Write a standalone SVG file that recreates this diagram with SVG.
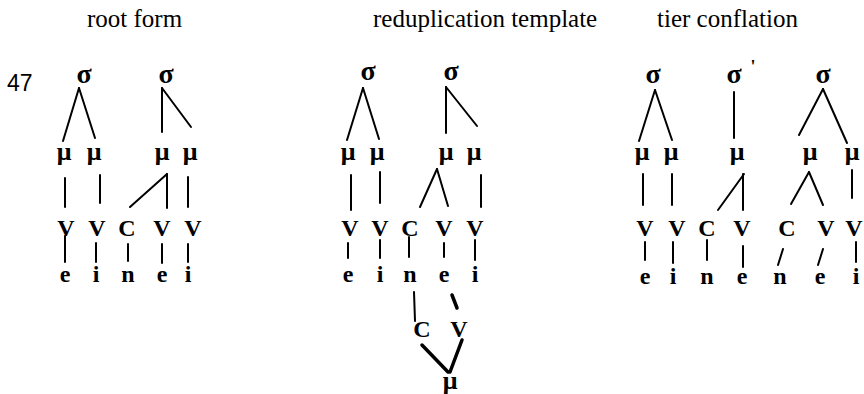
<svg xmlns="http://www.w3.org/2000/svg" width="864" height="394" viewBox="0 0 864 394">
<style>
text{font-family:"Liberation Serif","Times New Roman",serif;fill:#000;text-anchor:middle}
.title{font-size:25px;text-anchor:start}
.num{font-family:"Liberation Sans",Arial,sans-serif;font-size:23px;text-anchor:start}
.sig{font-size:28px;font-weight:bold}
.mu{font-size:26px;font-weight:bold}
.cv{font-size:24px;font-weight:bold}
.seg{font-size:24px;font-weight:bold}
.ln line{stroke:#000;stroke-width:2;stroke-linecap:round}
.ln line.thick{stroke-width:3.5}
</style>
<rect width="864" height="394" fill="#fff"/>
<g id="titles">
<text class="title" x="87" y="27">root form</text>
<text class="title" x="373" y="27">reduplication template</text>
<text class="title" x="657" y="27">tier conflation</text>
<text class="num" x="7" y="91">47</text>
</g>
<g id="tree-root">
<text class="sig" x="84" y="83">σ</text>
<text class="sig" x="166" y="83">σ</text>
<text class="mu" x="64" y="160">μ</text>
<text class="mu" x="94" y="160">μ</text>
<text class="mu" x="162" y="160">μ</text>
<text class="mu" x="190" y="160">μ</text>
<text class="cv" x="66" y="236">V</text>
<text class="cv" x="97" y="236">V</text>
<text class="cv" x="127" y="236">C</text>
<text class="cv" x="162" y="236">V</text>
<text class="cv" x="193" y="236">V</text>
<text class="seg" x="65" y="282">e</text>
<text class="seg" x="96" y="282">i</text>
<text class="seg" x="128" y="282">n</text>
<text class="seg" x="162" y="282">e</text>
<text class="seg" x="188" y="282">i</text>
</g>
<g id="tree-template">
<text class="sig" x="368" y="80">σ</text>
<text class="sig" x="451" y="80">σ</text>
<text class="mu" x="348" y="160">μ</text>
<text class="mu" x="377" y="160">μ</text>
<text class="mu" x="446" y="160">μ</text>
<text class="mu" x="474" y="160">μ</text>
<text class="cv" x="350" y="236">V</text>
<text class="cv" x="380" y="236">V</text>
<text class="cv" x="410" y="236">C</text>
<text class="cv" x="444" y="236">V</text>
<text class="cv" x="475" y="236">V</text>
<text class="seg" x="348" y="282">e</text>
<text class="seg" x="380" y="282">i</text>
<text class="seg" x="410" y="282">n</text>
<text class="seg" x="444" y="282">e</text>
<text class="seg" x="475" y="282">i</text>
<text class="cv" x="422" y="337">C</text>
<text class="cv" x="459" y="337">V</text>
<text class="mu" x="450" y="389">μ</text>
</g>
<g id="tree-conflation">
<text class="sig" x="653" y="83">σ</text>
<text class="sig" x="734" y="83">σ</text>
<text class="sig" x="753" y="73" style="font-size:18px">'</text>
<text class="sig" x="823" y="83">σ</text>
<text class="mu" x="642" y="160">μ</text>
<text class="mu" x="671" y="160">μ</text>
<text class="mu" x="737" y="160">μ</text>
<text class="mu" x="810" y="160">μ</text>
<text class="mu" x="852" y="160">μ</text>
<text class="cv" x="645" y="236">V</text>
<text class="cv" x="677" y="236">V</text>
<text class="cv" x="707" y="236">C</text>
<text class="cv" x="742" y="236">V</text>
<text class="cv" x="787" y="236">C</text>
<text class="cv" x="826" y="236">V</text>
<text class="cv" x="854" y="236">V</text>
<text class="seg" x="645" y="284">e</text>
<text class="seg" x="673" y="284">i</text>
<text class="seg" x="707" y="284">n</text>
<text class="seg" x="742" y="284">e</text>
<text class="seg" x="780" y="284">n</text>
<text class="seg" x="820" y="284">e</text>
<text class="seg" x="856" y="284">i</text>
</g>
<g id="connectors" class="ln">
<line x1="79" y1="88" x2="63" y2="141"/>
<line x1="79" y1="88" x2="95" y2="138"/>
<line x1="162" y1="88" x2="162" y2="132"/>
<line x1="162" y1="88" x2="191" y2="127"/>
<line x1="65" y1="178" x2="65" y2="207"/>
<line x1="100" y1="175" x2="100" y2="203"/>
<line x1="130" y1="207" x2="167" y2="174"/>
<line x1="167" y1="174" x2="167" y2="208"/>
<line x1="188" y1="177" x2="188" y2="207"/>
<line x1="65" y1="236" x2="65" y2="262"/>
<line x1="96" y1="243" x2="96" y2="262"/>
<line x1="128" y1="244" x2="128" y2="261"/>
<line x1="162" y1="244" x2="162" y2="263"/>
<line x1="188" y1="244" x2="188" y2="262"/>

<line x1="363" y1="88" x2="347" y2="140"/>
<line x1="363" y1="88" x2="379" y2="139"/>
<line x1="446" y1="87" x2="446" y2="133"/>
<line x1="446" y1="87" x2="477" y2="126"/>
<line x1="351" y1="175" x2="351" y2="210"/>
<line x1="380" y1="172" x2="380" y2="203"/>
<line x1="437" y1="169" x2="420" y2="207"/>
<line x1="437" y1="169" x2="448" y2="206"/>
<line x1="481" y1="175" x2="481" y2="207"/>
<line x1="348" y1="243" x2="348" y2="258"/>
<line x1="380" y1="240" x2="380" y2="258"/>
<line x1="409" y1="237" x2="409" y2="257"/>
<line x1="444" y1="243" x2="444" y2="257"/>
<line x1="475" y1="240" x2="475" y2="260"/>
<line x1="414" y1="292" x2="415" y2="321"/>
<line class="thick" x1="452" y1="295" x2="457" y2="308"/>
<line class="thick" x1="422" y1="345" x2="448" y2="372"/>
<line class="thick" x1="462" y1="340" x2="450" y2="372"/>

<line x1="655" y1="90" x2="639" y2="141"/>
<line x1="655" y1="90" x2="672" y2="140"/>
<line x1="734" y1="92" x2="734" y2="138"/>
<line x1="823" y1="89" x2="799" y2="135"/>
<line x1="823" y1="89" x2="847" y2="143"/>
<line x1="643" y1="174" x2="643" y2="205"/>
<line x1="672" y1="174" x2="672" y2="205"/>
<line x1="718" y1="210" x2="744" y2="174"/>
<line x1="743" y1="174" x2="743" y2="210"/>
<line x1="809" y1="172" x2="791" y2="204"/>
<line x1="809" y1="172" x2="823" y2="205"/>
<line x1="852" y1="170" x2="852" y2="198"/>
<line x1="645" y1="242" x2="645" y2="260"/>
<line x1="673" y1="242" x2="673" y2="263"/>
<line x1="707" y1="240" x2="707" y2="260"/>
<line x1="743" y1="246" x2="743" y2="267"/>
<line x1="778" y1="265" x2="783" y2="249"/>
<line x1="818" y1="265" x2="823" y2="249"/>
<line x1="856" y1="242" x2="856" y2="262"/>
</g>
</svg>
